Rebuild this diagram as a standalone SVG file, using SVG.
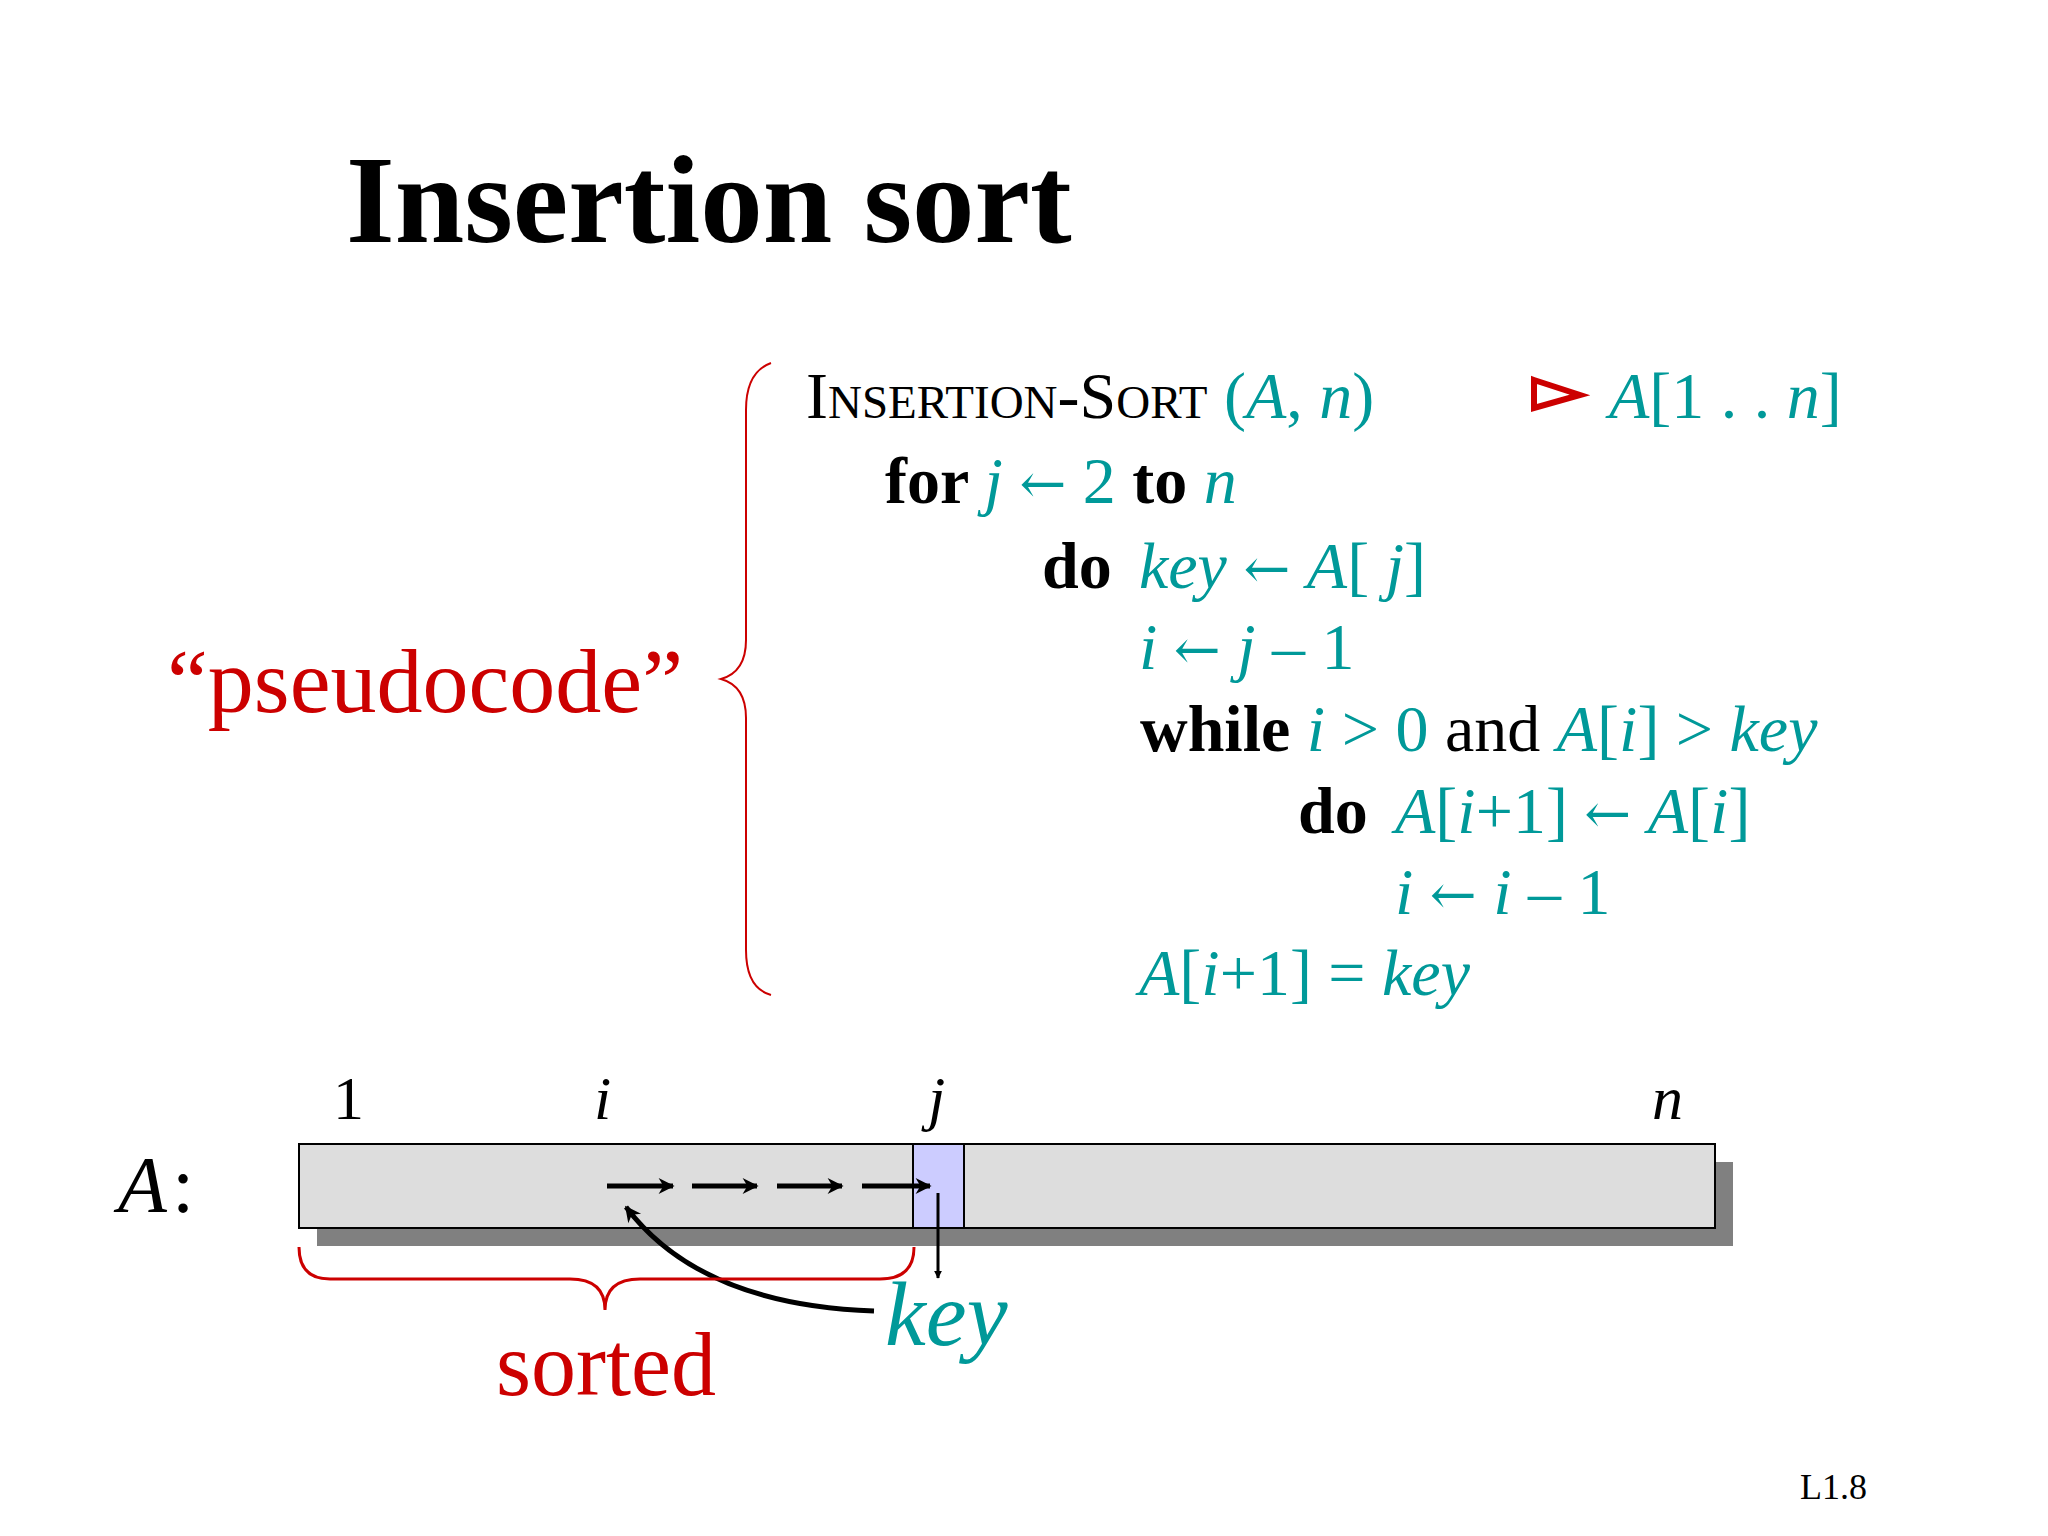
<svg xmlns="http://www.w3.org/2000/svg" width="2048" height="1536" viewBox="0 0 2048 1536">
<style>
text{font-family:"Liberation Serif","Times New Roman",serif;}
.c{font-size:66px}
.b{font-weight:bold;fill:#000}
.t{fill:#009999}
.i{font-style:italic}
.r{fill:#cc0000}
.a{font-family:"DejaVu Serif",serif;font-size:56px}
</style>
<defs>
<marker id="ah" viewBox="0 0 10 10" refX="9" refY="5" markerWidth="8" markerHeight="12" orient="auto" markerUnits="userSpaceOnUse"><path d="M0,0 L10,5 L0,10 Z" fill="#000"/></marker>
<marker id="ah2" viewBox="0 0 10 10" refX="9" refY="5" markerWidth="18" markerHeight="16" orient="auto" markerUnits="userSpaceOnUse"><path d="M0,0 L10,5 L0,10 L3,5 Z" fill="#000"/></marker>
</defs>
<rect width="2048" height="1536" fill="#fff"/>
<g id="title"><text x="346" y="242" font-size="125" font-weight="bold">Insertion sort</text></g>
<g id="code">
<text class="c" x="806" y="418"><tspan>I</tspan><tspan font-size="47">NSERTION</tspan><tspan>-S</tspan><tspan font-size="47">ORT</tspan><tspan class="t"> (<tspan class="i">A</tspan>, <tspan class="i">n</tspan>)</tspan></text>
<path d="M1534,380 L1580,395 L1534,408 Z" fill="none" stroke="#cc0000" stroke-width="6"/>
<text class="c t" x="1609" y="418"><tspan class="i">A</tspan>[1 . . <tspan class="i">n</tspan>]</text>
<text class="c" x="885" y="503"><tspan class="b">for </tspan><tspan class="t"><tspan class="i">j</tspan> <tspan class="a">←</tspan> 2 </tspan><tspan class="b">to </tspan><tspan class="t i">n</tspan></text>
<text class="c" x="1042" y="588"><tspan class="b">do </tspan><tspan class="t" x="1139"><tspan class="i">key</tspan> <tspan class="a">←</tspan> <tspan class="i">A</tspan>[ <tspan class="i">j</tspan>]</tspan></text>
<text class="c t" x="1139" y="669"><tspan class="i">i</tspan> <tspan class="a">←</tspan> <tspan class="i">j</tspan> – 1</text>
<text class="c" x="1140" y="751"><tspan class="b">while </tspan><tspan class="t"><tspan class="i">i</tspan> &gt; 0 </tspan><tspan fill="#000">and </tspan><tspan class="t"><tspan class="i">A</tspan>[<tspan class="i">i</tspan>] &gt; <tspan class="i">key</tspan></tspan></text>
<text class="c" x="1298" y="833"><tspan class="b">do </tspan><tspan class="t" x="1395"><tspan class="i">A</tspan>[<tspan class="i">i</tspan>+1] <tspan class="a">←</tspan> <tspan class="i">A</tspan>[<tspan class="i">i</tspan>]</tspan></text>
<text class="c t" x="1395" y="914"><tspan class="i">i</tspan> <tspan class="a">←</tspan> <tspan class="i">i</tspan> – 1</text>
<text class="c t" x="1139" y="995"><tspan class="i">A</tspan>[<tspan class="i">i</tspan>+1] = <tspan class="i">key</tspan></text>
</g>
<g id="pseudo-label">
<path d="M771,363 Q746,372 746,410 L746,640 Q746,672 721,679 Q746,686 746,718 L746,950 Q746,988 771,995" fill="none" stroke="#cc0000" stroke-width="2"/>
<text x="167" y="712" font-size="92" class="r">“pseudocode”</text>
</g>
<g id="array">
<rect x="317" y="1162" width="1416" height="84" fill="#808080"/>
<rect x="299" y="1144" width="1416" height="84" fill="#dddddd" stroke="#000" stroke-width="2"/>
<rect x="913" y="1144" width="51" height="84" fill="#ccccff" stroke="#000" stroke-width="2"/>
<text x="118" y="1212" font-size="80" class="i">A</text><text x="172" y="1212" font-size="80">:</text>
<text x="333" y="1119" font-size="62">1</text>
<text x="594" y="1119" font-size="62" class="i">i</text>
<text x="928" y="1119" font-size="62" class="i">j</text>
<text x="1652" y="1119" font-size="62" class="i">n</text>
</g>
<g id="connectors" stroke="#000" fill="none">
<line x1="607" y1="1186" x2="673" y2="1186" stroke-width="5" marker-end="url(#ah2)"/>
<line x1="692" y1="1186" x2="757" y2="1186" stroke-width="5" marker-end="url(#ah2)"/>
<line x1="777" y1="1186" x2="842" y2="1186" stroke-width="5" marker-end="url(#ah2)"/>
<line x1="862" y1="1186" x2="930" y2="1186" stroke-width="5" marker-end="url(#ah2)"/>
<line x1="938" y1="1193" x2="938" y2="1278" stroke-width="3" marker-end="url(#ah)"/>
<path d="M874,1311 Q700,1305 626,1207" stroke-width="5" marker-end="url(#ah2)"/>
</g>
<g id="sorted">
<path d="M299,1247 Q299,1279 330,1279 L570,1279 Q605,1279 605,1310 Q605,1279 640,1279 L880,1279 Q914,1279 914,1247" fill="none" stroke="#cc0000" stroke-width="3"/>
<text x="496" y="1395" font-size="90" class="r">sorted</text>
<text x="885" y="1345" font-size="92" class="t i">key</text>
</g>
<text x="1800" y="1499" font-size="36">L1.8</text>
</svg>
